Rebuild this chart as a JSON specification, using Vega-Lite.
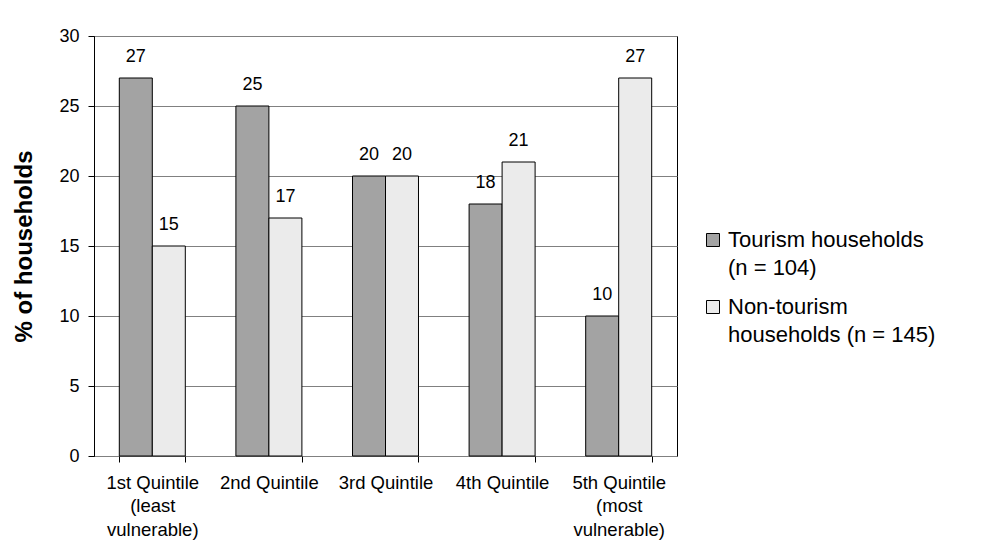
{
  "$schema": "https://vega.github.io/schema/vega-lite/v6.json",
  "width": 583,
  "height": 420,
  "padding": {"left": 12, "top": 27, "right": 5, "bottom": 5},
  "background": "white",
  "config": {
    "font": "Liberation Sans",
    "view": {"stroke": "black", "strokeWidth": 1},
    "axis": {"labelColor": "black", "titleColor": "black", "domainColor": "black", "tickColor": "black"}
  },
  "data": {
    "values": [
      {"quintile": "1st Quintile (least vulnerable)", "group": "Tourism households (n = 104)", "pct": 27},
      {"quintile": "1st Quintile (least vulnerable)", "group": "Non-tourism households (n = 145)", "pct": 15},
      {"quintile": "2nd Quintile", "group": "Tourism households (n = 104)", "pct": 25},
      {"quintile": "2nd Quintile", "group": "Non-tourism households (n = 145)", "pct": 17},
      {"quintile": "3rd Quintile", "group": "Tourism households (n = 104)", "pct": 20},
      {"quintile": "3rd Quintile", "group": "Non-tourism households (n = 145)", "pct": 20},
      {"quintile": "4th Quintile", "group": "Tourism households (n = 104)", "pct": 18},
      {"quintile": "4th Quintile", "group": "Non-tourism households (n = 145)", "pct": 21},
      {"quintile": "5th Quintile (most vulnerable)", "group": "Tourism households (n = 104)", "pct": 10},
      {"quintile": "5th Quintile (most vulnerable)", "group": "Non-tourism households (n = 145)", "pct": 27}
    ]
  },
  "encoding": {
    "x": {
      "field": "quintile",
      "type": "nominal",
      "sort": null,
      "scale": {"paddingInner": 0.434, "paddingOuter": 0.217},
      "axis": {
        "title": null,
        "labelAngle": 0,
        "labelFontSize": 18.5,
        "labelLineHeight": 23.5,
        "labelPadding": 11,
        "tickSize": 6,
        "tickBand": "extent",
        "domain": false,
        "labelExpr": "datum.value == '1st Quintile (least vulnerable)' ? ['1st Quintile', '(least', 'vulnerable)'] : datum.value == '5th Quintile (most vulnerable)' ? ['5th Quintile', '(most', 'vulnerable)'] : datum.value"
      }
    },
    "xOffset": {"field": "group", "type": "nominal", "sort": ["Tourism households (n = 104)", "Non-tourism households (n = 145)"]},
    "y": {
      "field": "pct",
      "type": "quantitative",
      "scale": {"domain": [0, 30]},
      "axis": {
        "title": "% of households",
        "titleFontSize": 24,
        "titleFontWeight": "bold",
        "titlePadding": 22,
        "values": [0, 5, 10, 15, 20, 25, 30],
        "labelFontSize": 18,
        "labelPadding": 9,
        "tickSize": 6,
        "grid": true,
        "gridColor": "#808080",
        "gridWidth": 1
      }
    }
  },
  "layer": [
    {
      "mark": {"type": "bar", "stroke": "black", "strokeWidth": 1},
      "encoding": {
        "color": {
          "field": "group",
          "type": "nominal",
          "sort": ["Tourism households (n = 104)", "Non-tourism households (n = 145)"],
          "scale": {"domain": ["Tourism households (n = 104)", "Non-tourism households (n = 145)"], "range": ["#a3a3a3", "#ebebeb"]},
          "legend": {
            "title": null,
            "orient": "none",
            "legendX": 608,
            "legendY": 193,
            "padding": 0,
            "symbolType": "square",
            "symbolSize": 169,
            "symbolStrokeColor": "black",
            "symbolStrokeWidth": 1,
            "symbolOpacity": 1,
            "labelFontSize": 22,
            "labelColor": "black",
            "labelOffset": 4,
            "labelLimit": 400,
            "rowPadding": 17,
            "labelExpr": "datum.label == 'Tourism households (n = 104)' ? ['Tourism households', '(n = 104)'] : ['Non-tourism', 'households (n = 145)']",
            "encode": {"labels": {"update": {"lineHeight": {"value": 28}}}}
          }
        }
      }
    },
    {
      "mark": {"type": "text", "baseline": "middle", "dy": -21, "fontSize": 18, "color": "black"},
      "encoding": {"text": {"field": "pct", "type": "quantitative"}}
    }
  ]
}
